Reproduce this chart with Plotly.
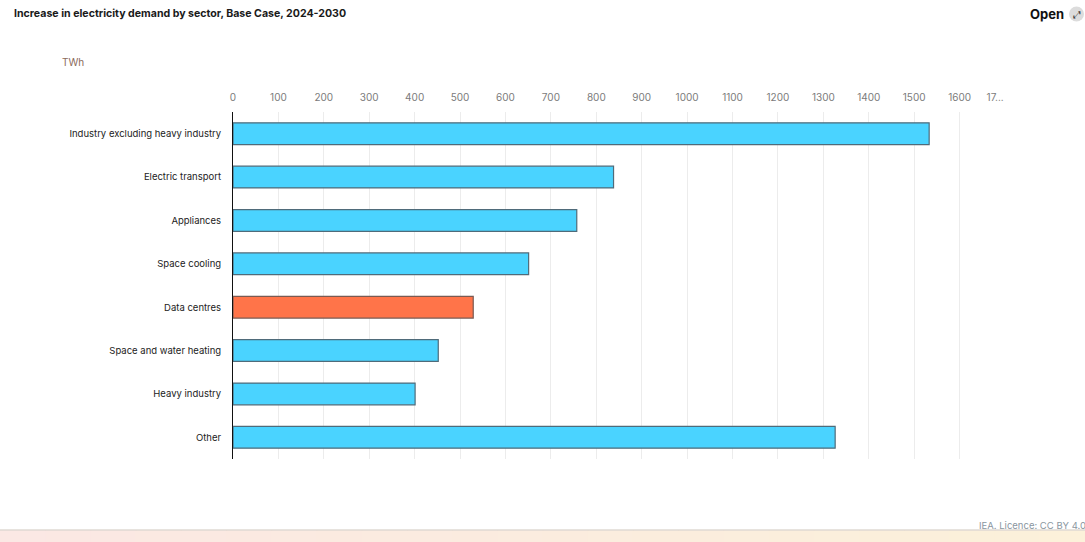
import plotly.graph_objects as go

categories = ["Industry excluding heavy industry", "Electric transport", "Appliances",
              "Space cooling", "Data centres", "Space and water heating",
              "Heavy industry", "Other"]
values = [1533, 838, 757, 651, 529, 452, 401, 1326]
highlight = "Data centres"

tick_vals = list(range(0, 1800, 100))
tick_text = [str(v) for v in tick_vals[:-1]] + ["17..." + "&nbsp;" * 7]

W, H = 1085, 542
L, R, T, B = 233, 80, 112, 83
plot_h = H - T - B

def py(px):
    return (H - B - px) / plot_h

def pxx(px):
    return (px - L) / (W - L - R)

colors = ["#ff7449" if c == highlight else "#4ad3ff" for c in categories]
lines = ["#7a5a52" if c == highlight else "#4f6b7a" for c in categories]

fig = go.Figure(go.Bar(
    x=values, y=categories, orientation="h",
    marker=dict(color=colors, line=dict(color=lines, width=1.2)),
    width=0.5, hoverinfo="x+y",
))

shapes = []
# bottom strip gradient
n = 24
c0 = (251, 232, 228)
c1 = (252, 241, 218)
for i in range(n):
    t = i / (n - 1)
    col = tuple(int(c0[k] + (c1[k] - c0[k]) * t) for k in range(3))
    shapes.append(dict(type="rect", xref="paper", yref="paper",
                       x0=pxx(i * W / n), x1=pxx((i + 1) * W / n + 1),
                       y0=py(542), y1=py(530.5),
                       fillcolor="rgb(%d,%d,%d)" % col, line=dict(width=0), layer="above"))
shapes.append(dict(type="line", xref="paper", yref="paper", x0=pxx(0), x1=pxx(W),
                   y0=py(530), y1=py(530), line=dict(color="#cfc6bd", width=1)))
# Open icon circle
shapes.append(dict(type="circle", xref="paper", yref="paper",
                   x0=pxx(1069), x1=pxx(1084), y0=py(21.5), y1=py(6.5),
                   fillcolor="#dcdcdc", line=dict(width=0)))

annotations = [
    dict(text="<b>Increase in electricity demand by sector, Base Case, 2024-2030</b>",
         xref="paper", yref="paper", x=pxx(12), y=py(13), xanchor="left", yanchor="middle",
         showarrow=False, font=dict(size=10.6, color="#1a1a1a")),
    dict(text="TWh", xref="paper", yref="paper", x=pxx(60), y=py(62),
         xanchor="left", yanchor="middle", showarrow=False,
         font=dict(size=10, color="#8a6a5a")),
    dict(text="<b>Open</b>", xref="paper", yref="paper", x=pxx(1066), y=py(14),
         xanchor="right", yanchor="middle", showarrow=False,
         font=dict(size=13, color="#111111")),
    dict(text="⤢", xref="paper", yref="paper", x=pxx(1076.5), y=py(14),
         xanchor="center", yanchor="middle", showarrow=False,
         font=dict(size=10, color="#333333")),
    dict(text="IEA. Licence: CC BY 4.0", xref="paper", yref="paper", x=pxx(1088), y=py(525),
         xanchor="right", yanchor="middle", showarrow=False,
         font=dict(size=9.5, color="#8a96a0")),
]

fig.update_layout(
    width=W, height=H,
    margin=dict(l=L, r=R, t=T, b=B),
    paper_bgcolor="white", plot_bgcolor="white",
    font=dict(family="Inter, Open Sans, sans-serif", size=9.5, color="#222222"),
    showlegend=False,
    bargap=0.5,
    xaxis=dict(side="top", range=[0, 1700], tickvals=tick_vals, ticktext=tick_text,
               showgrid=True, gridcolor="#ececec", gridwidth=1, zeroline=False,
               showline=False, ticks="", tickfont=dict(size=10, color="#7b7b7b"),
               ticklabelstandoff=8, fixedrange=True),
    yaxis=dict(categoryorder="array", categoryarray=categories, autorange="reversed",
               showgrid=False, zeroline=False, showline=True, linecolor="#111111",
               linewidth=1, ticks="", tickfont=dict(size=9.5, color="#222222"),
               ticklabelstandoff=9, fixedrange=True),
    shapes=shapes,
    annotations=annotations,
)

fig.write_html("out.html")
